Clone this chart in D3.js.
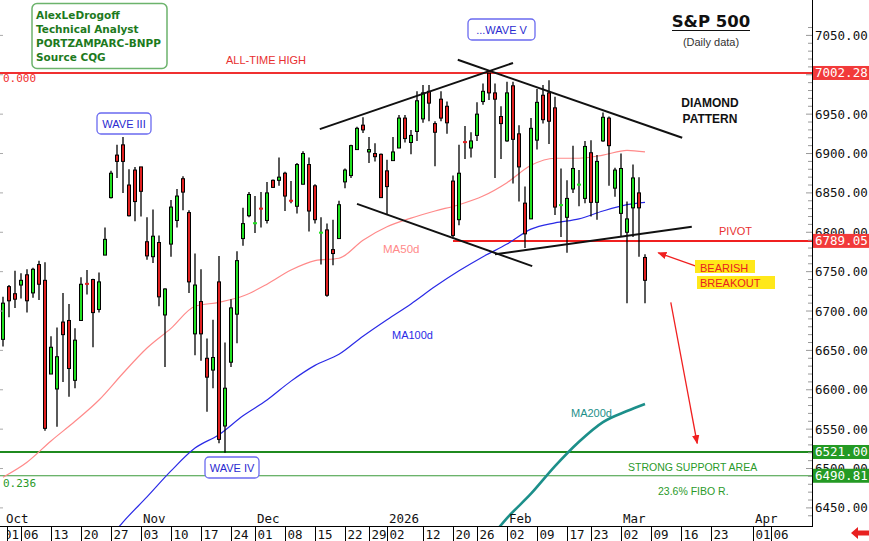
<!DOCTYPE html>
<meta charset="utf-8">
<html>
<head>
<script src="https://d3js.org/d3.v7.min.js"></script>
<style>
  body { margin: 0; background: #fff; }
  svg { display: block; }
  .mono { font-family: "DejaVu Sans Mono", monospace; }
  .sans { font-family: "Liberation Sans", Arial, sans-serif; }
  .bold { font-family: "DejaVu Sans", Verdana, sans-serif; font-weight: bold; }
</style>
</head>
<body>
<svg id="chart"></svg>
<script>
// daily candles, index 0 = 2025-10-01
var opens  = [6664,6731,6722,6733,6746,6723,6759,6739,6620,6601,6686,6688,6612,6688,6735,6740,6702,6771,6844,6898,
              6911,6860,6879,6883,6788,6769,6787,6695,6785,6815,6868,6825,6671,6712,6640,6625,6737,6554,6635,6696,
              6792,6821,6811,6831,6815,6866,6866,6875,6841,6833,6861,6886,6859,6799,6803,6778,6792,6864,6872,6905,
              6936,6902,6900,6899,6878,6891,6907,6945,6914,6928,6944,6979,6938,6969,6960,6865,6816,6915,6907,6923,
              6966,7002,6977,6947,6916,6986,6925,6837,6817,6917,6974,6977,6958,6834,6819,6855,6860,6843,6901,6838,
              6916,6945,6856,6824,6800,6831,6850,6768];
var highs  = [6718,6733,6751,6748,6753,6755,6764,6762,6668,6679,6723,6709,6678,6743,6752,6741,6749,6806,6878,6911,
              6921,6880,6883,6883,6819,6829,6796,6729,6841,6855,6871,6828,6773,6753,6665,6689,6770,6660,6715,6776,
              6831,6851,6846,6851,6864,6867,6895,6877,6865,6888,6903,6895,6861,6819,6811,6816,6840,6881,6911,6934,
              6946,6921,6913,6900,6892,6921,6949,6949,6930,6979,6987,6987,6941,6979,6966,6872,6911,6935,6927,6965,
              6989,7002.28,6989,6960,6991,6991,6936,6858,6945,6982,6987,6993,6972,6881,6866,6910,6879,6916,6917,6898,
              6952,6947,6882,6900,6839,6886,6870,6772];
var lows   = [6655,6692,6704,6716,6698,6717,6714,6548,6620,6553,6610,6591,6602,6688,6721,6654,6698,6771,6843,6869,
              6850,6820,6814,6820,6765,6761,6706,6629,6769,6806,6828,6723,6644,6637,6572,6602,6532,6520,6629,6659,
              6783,6819,6799,6806,6811,6857,6859,6827,6837,6824,6861,6801,6811,6759,6718,6758,6792,6856,6869,6905,
              6926,6888,6890,6844,6823,6891,6907,6914,6899,6916,6939,6941,6884,6941,6925,6794,6809,6893,6895,6916,
              6962,6968,6869,6893,6915,6862,6839,6780,6817,6905,6938,6912,6822,6794,6774,6850,6833,6837,6820,6816,
              6915,6859,6845,6795,6710,6794,6769,6710];
var closes = [6710,6713,6715,6739,6713,6753,6734,6551,6654,6642,6670,6627,6663,6734,6734,6698,6737,6791,6875,6890,
              6890,6821,6839,6852,6770,6795,6718,6728,6832,6846,6851,6737,6733,6671,6616,6641,6537,6602,6704,6764,
              6811,6848,6812,6829,6850,6857,6870,6846,6839,6886,6900,6827,6816,6800,6720,6773,6835,6879,6910,6932,
              6930,6905,6896,6844,6858,6902,6945,6919,6923,6967,6977,6964,6927,6945,6939,6796,6875,6914,6916,6950,
              6979,6977,6969,6938,6977,6918,6883,6798,6932,6965,6943,6941,6832,6835,6843,6881,6861,6909,6838,6890,
              6946,6910,6879,6881,6817,6869,6831,6739];

// moving averages (day index, value)
var ma50Days  = [0,4,8,12,16,20,24,28,32,36,40,44,48,52,56,60,64,68,72,76,80,84,88,92,96,100,104,107];
var ma50Vals  = [6489,6508,6535,6560,6587,6621,6653,6678,6706,6711,6719,6734,6752,6764,6767,6790,6807,6818,6827,6835,
                 6846,6863,6885,6894,6894,6898,6904,6902];
var ma100Days = [18,20,24,28,32,36,40,44,48,52,56,60,64,68,72,76,80,84,88,92,96,100,104,107];
var ma100Vals = [6414,6432,6464,6497,6526,6543,6567,6587,6611,6631,6645,6668,6689,6709,6731,6751,6769,6785,6804,6812,
                 6817,6827,6835,6838];
var ma200Days = [82,84,88,92,96,100,104,107];
var ma200Vals = [6419,6437,6468,6503,6534,6559,6573,6582];

// price levels
var athLevel = 7002.28, pivotLevel = 6789.05, supportLevel = 6521.00, fiboLevel = 6490.81;
var priceTicks = [7050,6950,6900,6850,6800,6750,6700,6650,6600,6550,6500,6450];
var edgeTicks = [7050,7000,6950,6900,6850,6800,6750,6700,6650,6600,6550,6500,6450];

// date axis
var holidays = ["2025-11-27","2025-12-25","2026-01-01","2026-01-19","2026-02-16"];
var dayTicks = ["2025-10-01","2025-10-06","2025-10-13","2025-10-20","2025-10-27","2025-11-03","2025-11-10","2025-11-17",
                "2025-11-24","2025-12-01","2025-12-08","2025-12-15","2025-12-22","2025-12-29","2026-01-02","2026-01-12",
                "2026-01-20","2026-01-26","2026-02-02","2026-02-09","2026-02-17","2026-02-23","2026-03-02","2026-03-09",
                "2026-03-16","2026-03-23","2026-04-01","2026-04-06"];
var monthNames = ["Oct","Nov","Dec","2026","Feb","Mar","Apr"];
var monthStarts = ["2025-10-01","2025-11-03","2025-12-01","2026-01-02","2026-02-02","2026-03-02","2026-04-01"];

// trading calendar
var fmt = d3.utcFormat("%Y-%m-%d");
var tradingDays = [];
d3.utcDays(new Date(Date.UTC(2025,9,1)), new Date(Date.UTC(2026,3,20))).forEach(function(d) {
  var wd = d.getUTCDay();
  if (wd != 0 && wd != 6 && holidays.indexOf(fmt(d)) < 0) tradingDays.push(fmt(d));
});
function dayIndex(s) { return tradingDays.indexOf(s); }

var W = 869, H = 541, plotW = 812, plotH = 526;

var svg = d3.select("#chart").attr("width", W).attr("height", H);

var x = d3.scaleLinear().domain([0, 135]).range([3, 813]);
var y = d3.scaleLinear().domain([6450, 7050]).range([507.9, 35.4]);

var defs = svg.append("defs");
defs.append("clipPath").attr("id", "plot")
  .append("rect").attr("x", 0).attr("y", 0).attr("width", plotW).attr("height", plotH);
defs.append("clipPath").attr("id", "firstday")
  .append("rect").attr("x", 8).attr("y", plotH).attr("width", 13).attr("height", 20);

var plot = svg.append("g").attr("clip-path", "url(#plot)");

// horizontal levels
plot.append("line").attr("x1", 0).attr("x2", plotW).attr("y1", y(athLevel)).attr("y2", y(athLevel))
  .style("stroke", "#f03030").style("stroke-width", 2);
plot.append("line").attr("x1", x(75)).attr("x2", plotW).attr("y1", y(pivotLevel)).attr("y2", y(pivotLevel))
  .style("stroke", "#f02020").style("stroke-width", 2);
plot.append("line").attr("x1", 0).attr("x2", plotW).attr("y1", y(supportLevel)).attr("y2", y(supportLevel))
  .style("stroke", "#1f8a1f").style("stroke-width", 2);
plot.append("line").attr("x1", 0).attr("x2", plotW).attr("y1", y(fiboLevel)).attr("y2", y(fiboLevel))
  .style("stroke", "#3a9a3a").style("stroke-width", 1);

// moving averages
function maLine(days, vals, color, w) {
  var pts = days.map(function(d, i) { return [x(d), y(vals[i])]; });
  plot.append("path").attr("d", d3.line().curve(d3.curveMonotoneX)(pts))
    .style("fill", "none").style("stroke", color).style("stroke-width", w);
}
maLine(ma50Days, ma50Vals, "#ff8a8a", 1.2);
maLine(ma100Days, ma100Vals, "#2a2ae6", 1.2);
maLine(ma200Days, ma200Vals, "#1c8f8a", 2.6);

// candles
var candles = plot.append("g");
opens.forEach(function(o, i) {
  var c = closes[i], cx = x(i);
  var up = c >= o;
  candles.append("line").attr("x1", cx).attr("x2", cx).attr("y1", y(highs[i])).attr("y2", y(lows[i]))
    .style("stroke", "#000").style("stroke-width", 1.3);
  var top = y(Math.max(o, c)), bot = y(Math.min(o, c));
  if (bot - top < 2) {
    candles.append("rect").attr("x", cx - 2).attr("y", (top + bot) / 2 - 1).attr("width", 4).attr("height", 2)
      .style("fill", up ? "#20e020" : "#e02020");
  } else {
    candles.append("rect").attr("x", cx - 1.5).attr("y", top).attr("width", 3).attr("height", bot - top)
      .style("fill", up ? "#20e020" : "#e02020").style("stroke", "#000").style("stroke-width", 1);
  }
});

// diamond pattern
var diamond = [
  [[52.8, 6931], [85, 7015]],
  [[75.8, 7019], [113.2, 6920]],
  [[59, 6836], [88.2, 6757]],
  [[82, 6772], [114.8, 6807]]
];
diamond.forEach(function(s) {
  plot.append("line").attr("x1", x(s[0][0])).attr("y1", y(s[0][1])).attr("x2", x(s[1][0])).attr("y2", y(s[1][1]))
    .style("stroke", "#111").style("stroke-width", 2);
});

// red arrows
defs.append("marker").attr("id", "head").attr("viewBox", "0 0 10 10")
  .attr("refX", 9).attr("refY", 5).attr("markerWidth", 7).attr("markerHeight", 7).attr("orient", "auto")
  .append("path").attr("d", "M0,1 L10,5 L0,9 Z").style("fill", "#f02020");
var arrows = [ [[116.2, 6755], [109.2, 6774]], [[111.3, 6711], [115.7, 6532]] ];
arrows.forEach(function(a) {
  plot.append("line").attr("x1", x(a[0][0])).attr("y1", y(a[0][1])).attr("x2", x(a[1][0])).attr("y2", y(a[1][1]))
    .style("stroke", "#f02020").style("stroke-width", 1.3).attr("marker-end", "url(#head)");
});

// texts on the chart
function txt(s, tx, ty, cls, size, color, anchor) {
  return svg.append("text").attr("x", tx).attr("y", ty).attr("class", cls)
    .style("font-size", size + "px").style("fill", color).attr("text-anchor", anchor || "start").text(s);
}
txt("ALL-TIME HIGH", 226, 64, "sans", 11, "#e83030");
txt("0.000", 3, 82, "mono", 11, "#f03030");
txt("PIVOT", 719, 235, "sans", 11, "#e83030");
txt("MA50d", 383, 253, "sans", 11.5, "#ff8a8a");
txt("MA100d", 392, 339, "sans", 11, "#2a2ae6");
txt("MA200d", 571, 417, "sans", 11, "#1c8f8a");
txt("STRONG SUPPORT AREA", 628, 471, "sans", 10.5, "#2a9a2a");
txt("23.6% FIBO R.", 658, 495, "sans", 10.5, "#2a9a2a");
txt("0.236", 3, 487, "mono", 11, "#2a9a2a");

// bearish breakout highlight
svg.append("rect").attr("x", 695).attr("y", 260).attr("width", 60).attr("height", 13).style("fill", "#ffe81a");
svg.append("rect").attr("x", 697).attr("y", 276).attr("width", 78).attr("height", 13).style("fill", "#ffe81a");
txt("BEARISH", 700, 272, "sans", 11, "#e82020");
txt("BREAKOUT", 700, 287, "sans", 11, "#e82020");

// title
txt("S&P 500", 711, 27, "bold", 16.5, "#111", "middle");
svg.append("line").attr("x1", 672).attr("x2", 750).attr("y1", 30.5).attr("y2", 30.5).style("stroke", "#111").style("stroke-width", 1.2);
txt("(Daily data)", 711, 46, "sans", 11, "#333", "middle");
svg.append("text").attr("x", 710).attr("y", 107).attr("text-anchor", "middle").attr("class", "sans")
  .style("font-size", "12px").style("font-weight", "bold").style("fill", "#111").text("DIAMOND");
svg.append("text").attr("x", 710).attr("y", 123).attr("text-anchor", "middle").attr("class", "sans")
  .style("font-size", "12px").style("font-weight", "bold").style("fill", "#111").text("PATTERN");

// author box
svg.append("rect").attr("x", 32).attr("y", 3.5).attr("width", 135).attr("height", 65).attr("rx", 5)
  .style("fill", "#fff").style("stroke", "#6cb36c").style("stroke-width", 1.5);
["AlexLeDrogoff", "Technical Analyst", "PORTZAMPARC-BNPP", "Source CQG"].forEach(function(s, i) {
  txt(s, 36, 19 + i * 14, "bold", 10.5, "#1d7a1d");
});

// wave labels
function waveBox(s, bx, by, bw) {
  svg.append("rect").attr("x", bx).attr("y", by).attr("width", bw).attr("height", 21).attr("rx", 4)
    .style("fill", "#fff").style("stroke", "#6a6af0").style("stroke-width", 1.3);
  txt(s, bx + bw / 2, by + 15, "sans", 11, "#2a2ad0", "middle");
}
waveBox("...WAVE V", 468, 19, 67);
waveBox("WAVE III", 97, 113, 54);
waveBox("WAVE IV", 205, 457, 54);

// right price axis
svg.append("line").attr("x1", 812.5).attr("x2", 812.5).attr("y1", 0).attr("y2", plotH).style("stroke", "#000");
d3.range(6440, 7061, 10).forEach(function(v) {
  svg.append("line").attr("x1", v % 50 == 0 ? 806 : 808).attr("x2", 812).attr("y1", y(v)).attr("y2", y(v))
    .style("stroke", "#999");
});
edgeTicks.forEach(function(v) {
  svg.append("line").attr("x1", 0).attr("x2", 3).attr("y1", y(v)).attr("y2", y(v)).style("stroke", "#aaa");
});
priceTicks.forEach(function(v) {
  txt(d3.format(".2f")(v), 815, y(v) + 4.5, "mono", 12.5, "#111");
});
function levelTag(v, color) {
  svg.append("rect").attr("x", 813).attr("y", y(v) - 7).attr("width", 56).attr("height", 14).style("fill", color);
  txt(d3.format(".2f")(v), 815, y(v) + 4.5, "mono", 12.5, "#fff");
}
levelTag(athLevel, "#f23a3a");
levelTag(pivotLevel, "#f23a3a");
levelTag(supportLevel, "#249a24");
levelTag(fiboLevel, "#249a24");

// date axis
svg.append("line").attr("x1", 0).attr("x2", 813).attr("y1", plotH + 0.5).attr("y2", plotH + 0.5).style("stroke", "#000");
dayTicks.forEach(function(d, i) {
  var tx = Math.max(Math.round(x(dayIndex(d))) + 0.5, 7.5);
  svg.append("line").attr("x1", tx).attr("x2", tx).attr("y1", plotH).attr("y2", H).style("stroke", "#000");
  var t = txt(d.slice(8), i == 0 ? 4 : tx + 2, 538.5, "mono", 12.5, "#111");
  if (i == 0) t.attr("clip-path", "url(#firstday)");
});
monthNames.forEach(function(m, i) {
  var tx = Math.max(x(dayIndex(monthStarts[i])) + 2, 6);
  txt(m, tx, 523, "mono", 12.5, "#111");
});

// scroll arrow
svg.append("path").attr("d", "M851,533 L858,527 L858,530.5 L869,530.5 L869,535.5 L858,535.5 L858,539 Z")
  .style("fill", "#e82020");
</script>
</body>
</html>
